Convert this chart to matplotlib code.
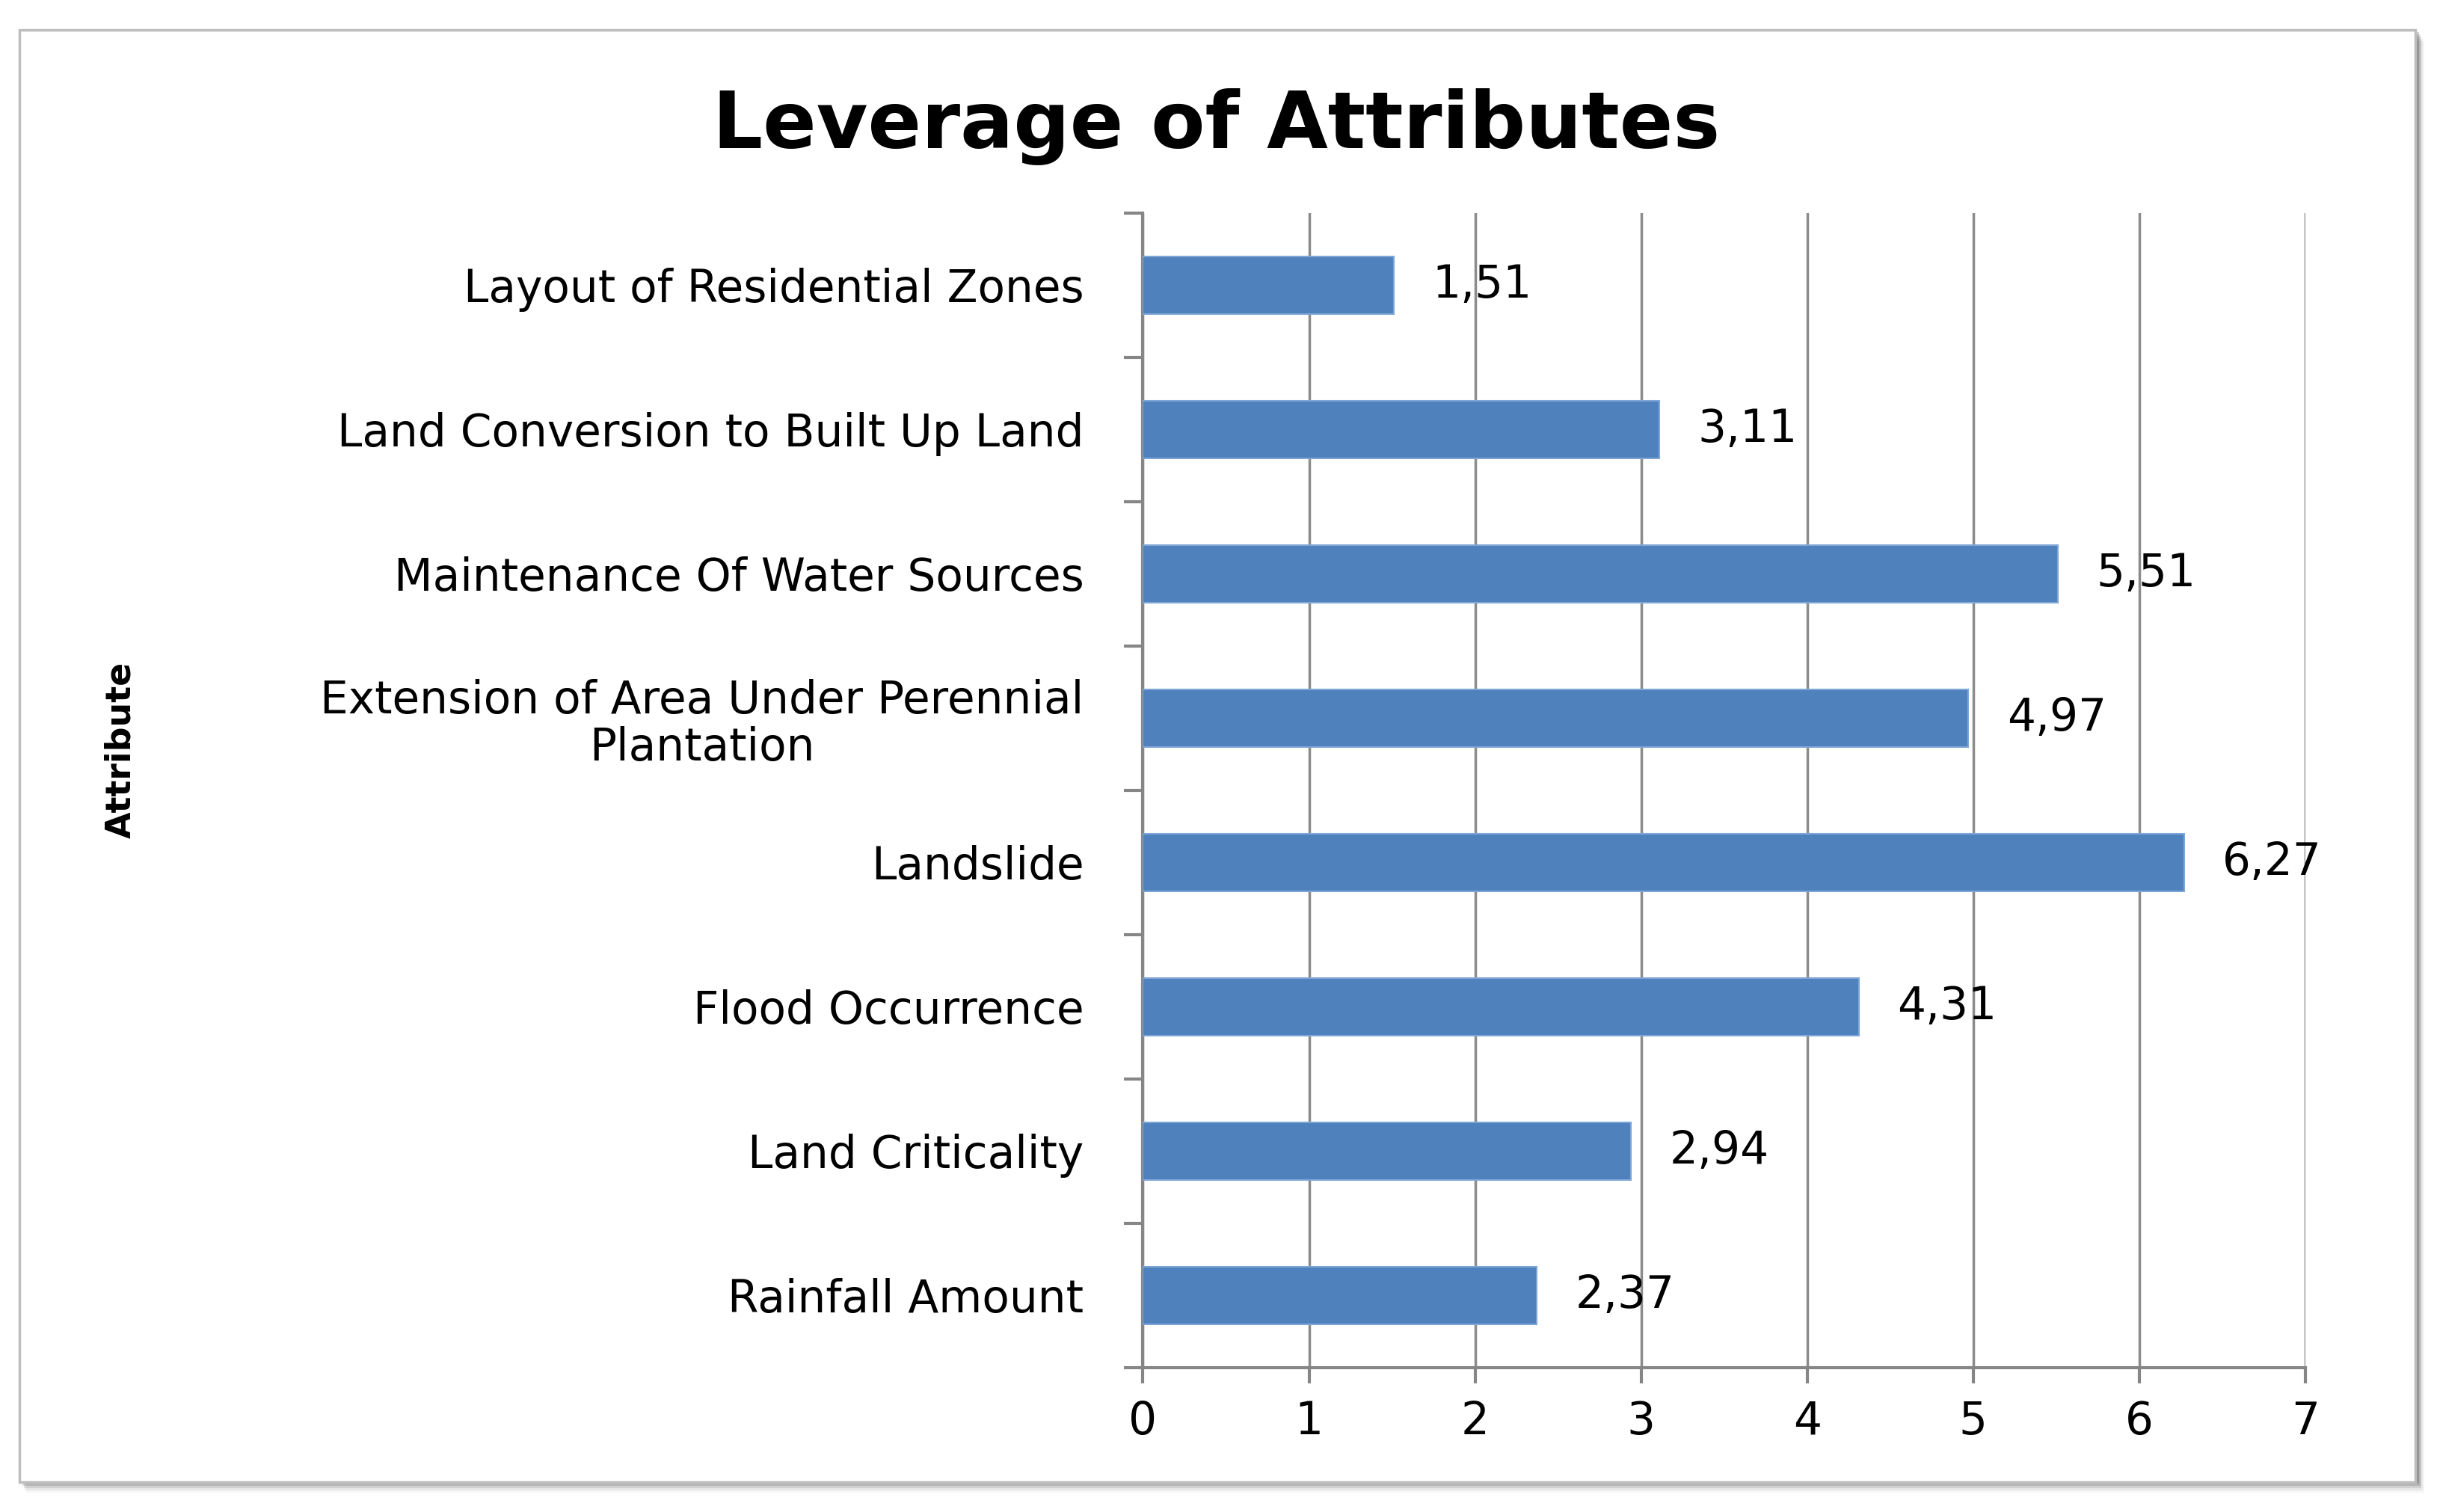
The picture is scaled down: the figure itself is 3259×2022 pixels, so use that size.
import matplotlib
matplotlib.use('Agg')
import matplotlib.pyplot as plt
from matplotlib.patches import Rectangle
from matplotlib.ticker import FixedLocator
import numpy as np

# Данные (сверху вниз, как на рисунке)
attributes = [
    'Layout of Residential Zones',
    'Land Conversion to Built Up Land',
    'Maintenance Of Water Sources',
    'Extension of Area Under Perennial\nPlantation',
    'Landslide',
    'Flood Occurrence',
    'Land Criticality',
    'Rainfall Amount',
]
leverage = [1.51, 3.11, 5.51, 4.97, 6.27, 4.31, 2.94, 2.37]
x_ticks = [0, 1, 2, 3, 4, 5, 6, 7]

BAR_COLOR = '#4F81BD'
GRID_COLOR = '#8C8C8C'
AXIS_COLOR = '#868686'
FONT = 'DejaVu Sans'
FS = 43  # размер шрифта подписей

fig = plt.figure(figsize=(32.59, 20.22), dpi=100)
fig.patch.set_facecolor('white')

# Рамка с тенью
for i, a in enumerate([0.04, 0.06, 0.09, 0.13, 0.18]):
    off = 0.007 - i * 0.0014
    fig.patches.append(Rectangle((0.008 + off * 0.4, 0.02 - off), 0.984, 0.96,
                                 transform=fig.transFigure, facecolor='#000000',
                                 alpha=a, edgecolor='none', zorder=0))
fig.patches.append(Rectangle((0.008, 0.02), 0.983, 0.96, transform=fig.transFigure,
                             facecolor='white', edgecolor='#BDBDBD', linewidth=2.5, zorder=1))

ax = fig.add_axes([0.469, 0.0956, 0.477, 0.7636])
ax.set_zorder(2)

y_pos = np.arange(len(attributes))
ax.barh(y_pos, leverage, height=0.4, color=BAR_COLOR, edgecolor='#7EA6D6',
        linewidth=1.5, zorder=3)

for y, v in zip(y_pos, leverage):
    ax.annotate(f'{v:.2f}'.replace('.', ','), xy=(v, y), xytext=(37, 0),
                textcoords='offset points', ha='left', va='center',
                fontsize=FS, family=FONT, color='black', zorder=4)

ax.set_xlim(0, 7)
ax.set_ylim(len(attributes) - 0.5, -0.5)
ax.xaxis.set_major_locator(FixedLocator(x_ticks))
ax.set_xticklabels([str(t) for t in x_ticks], fontsize=FS, family=FONT)

ax.set_yticks(y_pos)
ax.set_yticklabels(attributes, fontsize=FS, family=FONT, ha='right',
                   multialignment='center', linespacing=1.1)
ax.yaxis.set_minor_locator(FixedLocator(np.arange(-0.5, len(attributes), 1.0)))

ax.tick_params(axis='y', which='major', length=0, pad=57)
ax.tick_params(axis='y', which='minor', length=18, width=3, color=AXIS_COLOR, direction='out')
ax.tick_params(axis='x', which='major', length=15, width=3, color=AXIS_COLOR,
               direction='out', pad=16)

ax.grid(axis='x', color=GRID_COLOR, linewidth=2.5, zorder=0)
ax.set_axisbelow(True)
for side in ['top', 'right']:
    ax.spines[side].set_visible(False)
for side in ['left', 'bottom']:
    ax.spines[side].set_color(AXIS_COLOR)
    ax.spines[side].set_linewidth(3)
ax.set_facecolor('none')

fig.text(0.499, 0.916, 'Leverage of Attributes', ha='center', va='center',
         fontsize=76, fontweight='bold', family=FONT)
fig.text(0.0497, 0.504, 'Attribute', ha='center', va='center', rotation=90,
         fontsize=33, fontweight='bold', family=FONT)

fig.savefig('out.png', dpi=100)
